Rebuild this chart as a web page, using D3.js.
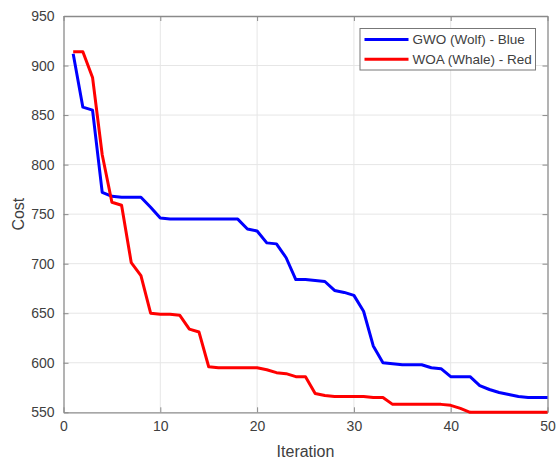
<!DOCTYPE html>
<html>
<head>
<meta charset="utf-8">
<script src="https://cdn.jsdelivr.net/npm/d3@7"></script>
<style>
  body { margin: 0; background: #fff; }
  svg text { font-family: "Liberation Sans", Arial, sans-serif; fill: #404040; }
</style>
</head>
<body>
<svg id="canvas" width="557" height="459"></svg>
<script>
// iterations 1..50
let iterations = d3.range(1, 51);

let gwoCost = [
  912, 858, 855, 772, 768, 767, 767, 767, 757, 746,
  745, 745, 745, 745, 745, 745, 745, 745, 735, 733,
  721, 720, 706, 684, 684, 683, 682, 673, 671, 668,
  652, 617, 600, 599, 598, 598, 598, 595, 594, 586,
  586, 586, 577, 573, 570, 568, 566, 565, 565, 565
];

let woaCost = [
  914, 914, 888, 810, 762, 759, 701, 688, 650, 649,
  649, 648, 634, 631, 596, 595, 595, 595, 595, 595,
  593, 590, 589, 586, 586, 569, 567, 566, 566, 566,
  566, 565, 565, 558, 558, 558, 558, 558, 558, 557,
  554, 550, 550, 550, 550, 550, 550, 550, 550, 550
];

let xTicks = [0, 10, 20, 30, 40, 50];
let yTicks = [550, 600, 650, 700, 750, 800, 850, 900, 950];

let seriesNames = ['GWO (Wolf) - Blue', 'WOA (Whale) - Red'];
let seriesColors = ['#0000ff', '#ff0000'];

let canvas = d3.select('#canvas');

let plotLeft = 63.5, plotRight = 547.5, plotTop = 16, plotBottom = 412.3;

let xScale = d3.scaleLinear().domain([0, 50]).range([plotLeft, plotRight]);
let yScale = d3.scaleLinear().domain([550, 950]).range([plotBottom, plotTop]);

// grid
canvas.append('g')
  .selectAll('line')
  .data(xTicks.slice(1, -1))
  .enter()
  .append('line')
  .attr('x1', (d) => xScale(d)).attr('x2', (d) => xScale(d))
  .attr('y1', plotTop).attr('y2', plotBottom)
  .attr('stroke', '#e6e6e6').attr('stroke-width', 1);

canvas.append('g')
  .selectAll('line')
  .data(yTicks.slice(1, -1))
  .enter()
  .append('line')
  .attr('x1', plotLeft).attr('x2', plotRight)
  .attr('y1', (d) => yScale(d)).attr('y2', (d) => yScale(d))
  .attr('stroke', '#e6e6e6').attr('stroke-width', 1);

// axes (ticks inward like matlab)
let xAxis = d3.axisBottom(xScale).tickValues(xTicks).tickSizeInner(-5).tickSizeOuter(0).tickPadding(9);
let yAxis = d3.axisLeft(yScale).tickValues(yTicks).tickSizeInner(-5).tickSizeOuter(0).tickPadding(9);

let gx = canvas.append('g').attr('transform', `translate(0,${plotBottom})`).call(xAxis);
let gy = canvas.append('g').attr('transform', `translate(${plotLeft},0)`).call(yAxis);

let gxTop = canvas.append('g').attr('transform', `translate(0,${plotTop})`)
  .call(d3.axisTop(xScale).tickValues(xTicks).tickSizeInner(-5).tickSizeOuter(0).tickFormat(''));
let gyRight = canvas.append('g').attr('transform', `translate(${plotRight},0)`)
  .call(d3.axisRight(yScale).tickValues(yTicks).tickSizeInner(-5).tickSizeOuter(0).tickFormat(''));

[gx, gy, gxTop, gyRight].forEach((g) => {
  g.select('.domain').attr('stroke', '#8a8a8a').attr('stroke-width', 1.3);
  g.selectAll('.tick line').attr('stroke', '#8a8a8a');
  g.selectAll('.tick text').attr('font-size', 14).attr('fill', '#404040')
    .style('font-family', '"Liberation Sans", Arial, sans-serif');
});

// lines
let line = d3.line()
  .x((d) => xScale(d[0]))
  .y((d) => yScale(d[1]));

let allSeries = [gwoCost, woaCost];
allSeries.forEach((values, i) => {
  canvas.append('path')
    .datum(iterations.map((it, j) => [it, values[j]]))
    .attr('d', line)
    .attr('fill', 'none')
    .attr('stroke', seriesColors[i])
    .attr('stroke-width', 3)
    .attr('stroke-linejoin', 'round');
});

// labels
canvas.append('text')
  .attr('x', (plotLeft + plotRight) / 2)
  .attr('y', 457)
  .attr('text-anchor', 'middle')
  .attr('font-size', 16)
  .text('Iteration');

canvas.append('text')
  .attr('transform', `translate(24,${(plotTop + plotBottom) / 2}) rotate(-90)`)
  .attr('text-anchor', 'middle')
  .attr('font-size', 16)
  .text('Cost');

// legend
let legend = canvas.append('g').attr('transform', 'translate(360,28.5)');
legend.append('rect')
  .attr('width', 175.5).attr('height', 41.5)
  .attr('fill', '#fff').attr('stroke', '#777').attr('stroke-width', 1);

seriesNames.forEach((name, i) => {
  let yy = 11 + i * 19.7;
  legend.append('line')
    .attr('x1', 4.5).attr('x2', 48.5)
    .attr('y1', yy).attr('y2', yy)
    .attr('stroke', seriesColors[i]).attr('stroke-width', 3);
  legend.append('text')
    .attr('x', 52.5).attr('y', yy + 4.8)
    .attr('font-size', 13.5)
    .attr('fill', '#262626')
    .text(name);
});
</script>
</body>
</html>
